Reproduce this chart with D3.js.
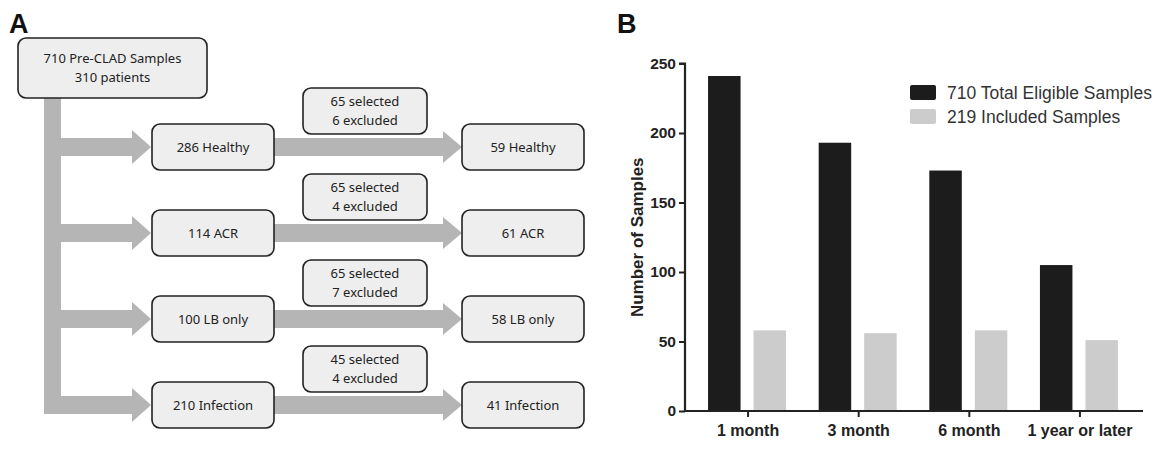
<!DOCTYPE html>
<html>
<head>
<meta charset="utf-8">
<script src="https://cdn.jsdelivr.net/npm/d3@7"></script>
<style>
  body { margin: 0; background: #fff; }
  svg { display: block; }
</style>
</head>
<body>
<svg></svg>
<script>
// Panel A: sample selection flow
let groups = ['Healthy', 'ACR', 'LB only', 'Infection'];
let eligibleCounts = [286, 114, 100, 210];
let selectedCounts = [65, 65, 65, 45];
let excludedCounts = [6, 4, 7, 4];
let includedCounts = [59, 61, 58, 41];

// Panel B: samples by time point
let timePoints = ['1 month', '3 month', '6 month', '1 year or later'];
let totalEligible = [241, 193, 173, 105];
let included = [58, 56, 58, 51];
let seriesNames = ['710 Total Eligible Samples', '219 Included Samples'];
let yTicks = [0, 50, 100, 150, 200, 250];

let width = 1165,
    height = 472;

let svg = d3.select("svg")
    .attr("width", width)
    .attr("height", height);

let arrowGray = "#b5b5b5";
let boxFill = "#eeeeee";
let ink = "#222";
let flowFont = "'Noto Sans', 'Open Sans', sans-serif";

// ---------- Panel A ----------
svg.append("text")
    .attr("x", 9).attr("y", 33)
    .attr("font-family", "'Liberation Sans', Arial, sans-serif")
    .attr("font-weight", "bold").attr("font-size", 27)
    .attr("fill", "#111")
    .text("A");

let rowY = d3.scalePoint().domain(groups).range([147, 405]);

let a = svg.append("g");

// vertical trunk
a.append("rect")
    .attr("x", 44).attr("y", 98)
    .attr("width", 17).attr("height", rowY(groups[groups.length - 1]) + 9 - 98)
    .attr("fill", arrowGray);

function arrow(x0, x1, cy, shaft, head, headLen) {
    let pts = [
        [x0, cy - shaft], [x1 - headLen, cy - shaft], [x1 - headLen, cy - head],
        [x1, cy], [x1 - headLen, cy + head], [x1 - headLen, cy + shaft], [x0, cy + shaft]
    ];
    return "M" + pts.map(p => p.join(",")).join("L") + "Z";
}

function box(g, x, y, w, h, lines) {
    g.append("rect")
        .attr("x", x).attr("y", y)
        .attr("width", w).attr("height", h)
        .attr("rx", 8).attr("ry", 8)
        .attr("fill", boxFill).attr("stroke", ink).attr("stroke-width", 1.6);
    let lh = 18.5;
    let cy = y + h / 2 - (lines.length - 1) * lh / 2;
    lines.forEach((t, i) => {
        g.append("text")
            .attr("x", x + w / 2).attr("y", cy + i * lh)
            .attr("dy", "0.35em")
            .attr("text-anchor", "middle")
            .attr("font-family", flowFont).attr("font-size", 13)
            .attr("fill", ink)
            .text(t);
    });
}

groups.forEach((name, i) => {
    let cy = rowY(name);
    a.append("path").attr("d", arrow(61, 151, cy, 9, 17, 19)).attr("fill", arrowGray);
    a.append("path").attr("d", arrow(272, 462, cy, 9, 16, 19)).attr("fill", arrowGray);
    box(a, 152, cy - 23, 122, 46, [eligibleCounts[i] + " " + name]);
    box(a, 462, cy - 23, 122, 46, [includedCounts[i] + " " + name]);
    box(a, 303, cy - 59, 124, 46, [selectedCounts[i] + " selected", excludedCounts[i] + " excluded"]);
});

box(a, 18, 38, 189, 60, ["710 Pre-CLAD Samples", "310 patients"]);

// ---------- Panel B ----------
let bFont = "'Liberation Sans', Arial, Helvetica, sans-serif";

svg.append("text")
    .attr("x", 617).attr("y", 33)
    .attr("font-family", bFont)
    .attr("font-weight", "bold").attr("font-size", 27)
    .attr("fill", "#111")
    .text("B");

let axisX = 685, axisBottom = 411;

let y = d3.scaleLinear().domain([0, 250]).range([axisBottom, 63.5]);
let x = d3.scaleBand().domain(timePoints).range([axisX, 1143]).paddingInner(0).paddingOuter(0.07);
let xSub = d3.scaleBand().domain([0, 1]).range([-40, 38]).paddingInner(0.2857);

let b = svg.append("g");

let barColors = ["#1c1c1c", "#cccccc"];
let series = [totalEligible, included];

series.forEach((vals, s) => {
    b.selectAll(null)
        .data(timePoints)
        .enter().append("rect")
        .attr("x", d => x(d) + x.bandwidth() / 2 + xSub(s))
        .attr("width", xSub.bandwidth())
        .attr("y", (d, i) => y(vals[i]))
        .attr("height", (d, i) => axisBottom - y(vals[i]))
        .attr("fill", barColors[s]);
});

let yAxis = b.append("g")
    .attr("transform", `translate(${axisX},0)`)
    .call(d3.axisLeft(y).tickValues(yTicks).tickSize(6).tickPadding(3));
let xAxis = b.append("g")
    .attr("transform", `translate(0,${axisBottom})`)
    .call(d3.axisBottom(x).tickSize(6).tickPadding(8).tickSizeOuter(0));

[yAxis, xAxis].forEach(g => {
    g.select(".domain").attr("stroke", ink).attr("stroke-width", 2.2);
    g.selectAll(".tick line").attr("stroke", ink).attr("stroke-width", 2);
    g.selectAll(".tick text")
        .attr("fill", ink)
        .attr("font-family", bFont)
        .attr("font-weight", "bold");
});
yAxis.select(".domain").attr("d", `M0,${axisBottom}V${y(250)}H-6`);
yAxis.selectAll(".tick text").attr("font-size", 15.5);
xAxis.selectAll(".tick text").attr("font-size", 16);
xAxis.select(".domain").attr("d", `M${axisX},0H1143`);

b.append("text")
    .attr("transform", `translate(643,${(axisBottom + y(250)) / 2}) rotate(-90)`)
    .attr("text-anchor", "middle")
    .attr("font-family", bFont)
    .attr("font-weight", "bold").attr("font-size", 17)
    .attr("fill", ink)
    .text("Number of Samples");

// legend
let legend = b.append("g").attr("transform", "translate(910,85)");
seriesNames.forEach((n, i) => {
    legend.append("rect")
        .attr("x", 0).attr("y", i * 24)
        .attr("width", 26).attr("height", 15)
        .attr("rx", 2)
        .attr("fill", barColors[i]);
    legend.append("text")
        .attr("x", 37).attr("y", i * 24 + 7.5)
        .attr("dy", "0.35em")
        .attr("font-family", bFont)
        .attr("font-size", 17.5)
        .attr("fill", "#333")
        .text(n);
});
</script>
</body>
</html>
